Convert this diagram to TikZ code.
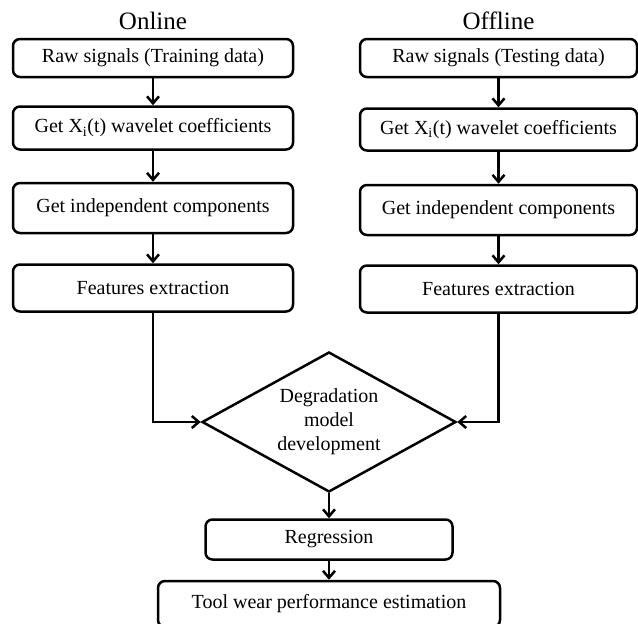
\documentclass[tikz,border=0pt]{standalone}
\usepackage{fontspec}
\setmainfont{Liberation Serif}
\usetikzlibrary{positioning,shapes.geometric,arrows.meta}

\begin{document}
\begin{tikzpicture}[x=1pt,y=-1pt,line width=2.5pt,
    >={Straight Barb[length=7pt,width=12pt]},
    box/.style={draw,rounded corners=7pt,minimum width=280pt,inner sep=0pt,
      font=\fontsize{20}{24}\selectfont},
    title/.style={inner sep=0pt,font=\fontsize{25}{30}\selectfont}]
      \useasboundingbox (0,0) rectangle (638,624);

      \node [box,minimum height=38pt] (1) at (153,58) {Raw signals (Training data)};
      \node [box,minimum height=43pt,below=27pt of 1] (2) {Get X\textsubscript{i}(t) wavelet coefficients};
      \node [box,minimum height=50pt,below=31pt of 2] (3) {Get independent components};
      \node [box,minimum height=47pt,below=29pt of 3] (4) {Features extraction};

      \node [box,minimum width=277pt,minimum height=38pt] (5) at (498.5,58) {Raw signals (Testing data)};
      \node [box,minimum width=277pt,minimum height=42pt,below=29pt of 5] (6) {Get X\textsubscript{i}(t) wavelet coefficients};
      \node [box,minimum width=277pt,minimum height=50pt,below=32pt of 6] (7) {Get independent components};
      \node [box,minimum width=277pt,minimum height=47pt,below=28pt of 7] (8) {Features extraction};

      \node [title,above=7pt of 1] (on) {Online};
      \node [title,above=7pt of 5] (off) {Offline};

      \node [draw,diamond,aspect=1.8,minimum width=254pt,minimum height=140pt,inner sep=0pt,
        align=center,font=\fontsize{20}{24}\selectfont] (9) at (329,422) {Degradation\\model\\development};
      \node [box,minimum width=247pt,minimum height=40pt,below=25pt of 9] (10) {Regression};
      \node [box,minimum width=342pt,minimum height=46pt,below=19pt of 10] (11) {Tool wear performance estimation};

      \draw[->] (1) -- (2);
      \draw[->] (2) -- (3);
      \draw[->] (3) -- (4);
      \draw[->] (5) -- (6);
      \draw[->] (6) -- (7);
      \draw[->] (7) -- (8);
      \draw[->] (4) |- (9);
      \draw[->] (8) |- (9);
      \draw[->] (9) -- (10);
      \draw[->] (10) -- (11);
    \end{tikzpicture}
\end{document}
